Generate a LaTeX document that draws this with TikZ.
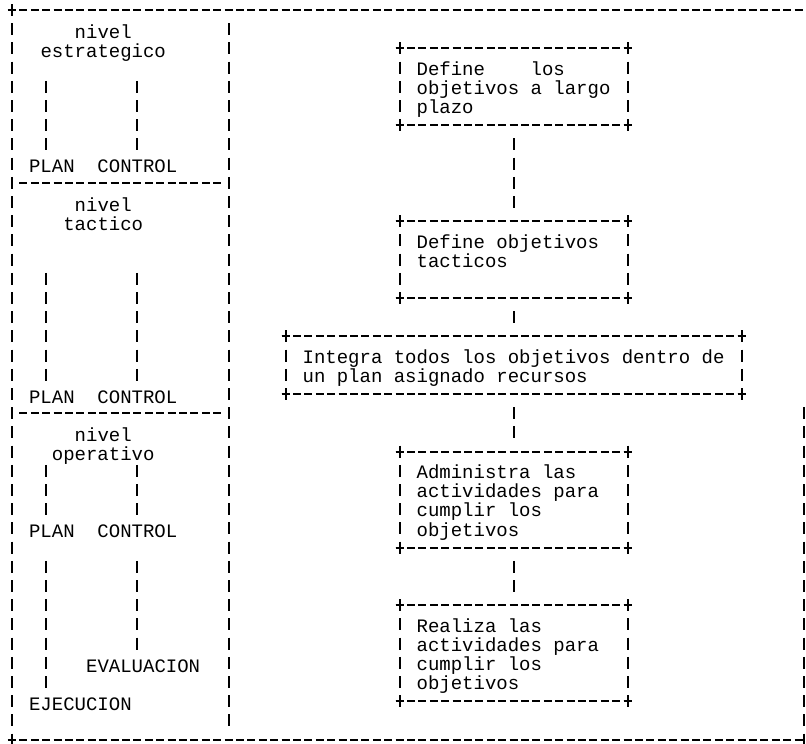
\documentclass[tikz,border=0pt]{standalone}
\usepackage{fontspec}
\setmonofont{Liberation Mono}
\tikzset{
  trazo/.style={line width=2pt},
  guion/.style={trazo,dash pattern=on 8pt off 3.4pt,shorten <=-4pt,shorten >=-4pt},
  barra/.style={trazo,dash pattern=on 12pt off 7.2pt,shorten <=-6pt,shorten >=-6pt},
  conector/.style={trazo,dash pattern=on 12pt off 7.2pt,shorten <=13.2pt,shorten >=13.2pt},
  texto/.style={anchor=west,text height=19pt,text depth=0.5pt},
  caja/.style={align=flush left,inner xsep=17pt,inner ysep=0pt,text width=194pt,
    minimum width=228pt,execute at begin node=\rule{0pt}{21pt},execute at end node=\strut},
  mas/.pic={\draw[trazo] (-4pt,0) -- (4pt,0) (0,-4.5pt) -- (0,4.5pt);}
}
\newcommand{\marco}[1]{%
  \draw[guion] (#1.north west) -- (#1.north east);
  \draw[guion] (#1.south west) -- (#1.south east);
  \draw[barra] (#1.north west) -- (#1.south west);
  \draw[barra] (#1.north east) -- (#1.south east);
  \foreach \e in {north west,north east,south west,south east}
    \pic at (#1.\e) {mas};
}
\begin{document}
\begin{tikzpicture}[x=11.4pt,y=-19.2pt,
  every node/.style={font=\ttfamily\fontsize{19}{19.2}\selectfont,inner sep=0pt,outer sep=0pt}]
  \useasboundingbox (-1.0526,-0.5208) rectangle (69.649,38.229);
  \draw[guion] (0,0) -- (69,0);
  \draw[guion] (0,38) -- (69,38);
  \draw[barra] (0,0) -- (0,38);
  \draw[barra] (19,1) -- (19,37);
  \draw[barra] (69.5,21) -- (69.5,38);
  \pic at (0,0) {mas};
  \pic at (0,38) {mas};
  \draw[guion] (1,9) -- (18,9);
  \draw[guion] (1,21) -- (18,21);

  \node[texto] (nivelE) at (5.5,1) {nivel};
  \node[texto] (estrategico) at (2.5,2) {estrategico};
  \draw[barra] (3,4) -- (3,7);
  \draw[barra] (11,4) -- (11,7);
  \node[texto] (planE) at (1.5,8) {PLAN\ \ CONTROL};

  \node[texto] (nivelT) at (5.5,10) {nivel};
  \node[texto] (tactico) at (4.5,11) {tactico};
  \draw[barra] (3,14) -- (3,19);
  \draw[barra] (11,14) -- (11,19);
  \node[texto] (planT) at (1.5,20) {PLAN\ \ CONTROL};

  \node[texto] (nivelO) at (5.5,22) {nivel};
  \node[texto] (operativo) at (3.5,23) {operativo};
  \draw[barra] (3,24) -- (3,26);
  \draw[barra] (11,24) -- (11,26);
  \node[texto] (planO) at (1.5,27) {PLAN\ \ CONTROL};
  \draw[barra] (3,29) -- (3,35);
  \draw[barra] (11,29) -- (11,33);
  \node[texto] (evaluacion) at (6.5,34) {EVALUACION};
  \node[texto] (ejecucion) at (1.5,36) {EJECUCION};

  \node[caja,minimum height=76.8pt] (largo) at (44,4)
    {Define\ \ \ \ los\\objetivos a largo\\plazo};
  \node[caja,minimum height=76.8pt] (tacticos) at (44,13)
    {Define objetivos\\tacticos\\\strut};
  \node[caja,minimum height=57.6pt,text width=422pt,minimum width=456pt] (integra) at (44,18.5)
    {Integra todos los objetivos dentro de\\un plan asignado recursos};
  \node[caja,minimum height=96pt] (administra) at (44,25.5)
    {Administra las\\actividades para\\cumplir los\\objetivos};
  \node[caja,minimum height=96pt] (realiza) at (44,33.5)
    {Realiza las\\actividades para\\cumplir los\\objetivos};
  \foreach \b in {largo,tacticos,integra,administra,realiza}
    \marco{\b};

  \draw[conector] (largo) -- (tacticos);
  \draw[conector] (tacticos) -- (integra);
  \draw[conector] (integra) -- (administra);
  \draw[conector] (administra) -- (realiza);
\end{tikzpicture}
\end{document}
